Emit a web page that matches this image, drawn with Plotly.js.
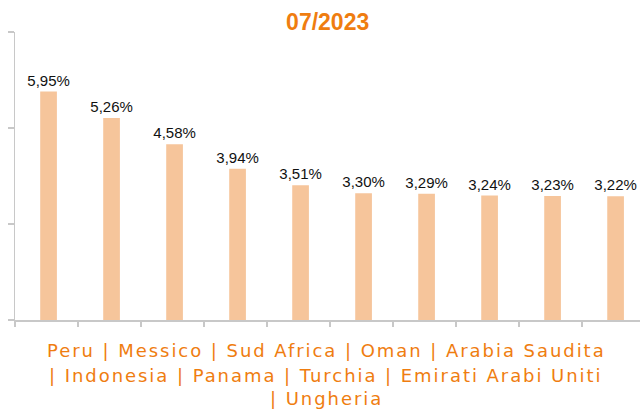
<!DOCTYPE html>
<html>
<head>
<meta charset="utf-8">
<script src="https://cdn.plot.ly/plotly-3.0.1.min.js"></script>
<style>html,body{margin:0;padding:0;background:#fff;}#chart{width:640px;height:409px;}
.annotation-text{letter-spacing:1.95px;}</style>
</head>
<body>
<div id="chart"></div>
<script>
const title = "07/2023";
const countries = ["Peru", "Messico", "Sud Africa", "Oman", "Arabia Saudita", "Indonesia", "Panama", "Turchia", "Emirati Arabi Uniti", "Ungheria"];
const values = [5.95, 5.26, 4.58, 3.94, 3.51, 3.30, 3.29, 3.24, 3.23, 3.22];
const lineBreaks = [5, 9]; // label lines start at these category indices

const orange = "#EF7D10";
const labels = values.map(v => v.toFixed(2).replace(".", ",") + "%");

const lines = [];
let start = 0;
[...lineBreaks, countries.length].forEach((end, i) => {
  const part = countries.slice(start, end).join(" | ");
  lines.push(i === 0 ? part : "| " + part);
  start = end;
});
const shifts = [-30, -55, -78];
const annotations = lines.map((t, i) => ({
  text: t, xref: "paper", yref: "paper", x: 0.498, y: 0,
  xanchor: "center", yanchor: "middle", yshift: shifts[i], showarrow: false,
  font: {family: "DejaVu Sans", size: 18, color: orange}
}));

const trace = {
  type: "bar", x: countries, y: values,
  width: 0.265, offset: -0.1,
  marker: {color: "#F6C59B"},
  text: labels, textposition: "outside", cliponaxis: false, constraintext: "none",
  textfont: {family: "Liberation Sans", size: 15, color: "#111"},
  hoverinfo: "none"
};

const layout = {
  width: 640, height: 409,
  margin: {l: 15, r: 0, t: 32, b: 89},
  paper_bgcolor: "#fff", plot_bgcolor: "#fff",
  title: {text: "<b>" + title + "</b>", x: 0.512, xanchor: "center", y: 0.967, yanchor: "top",
          font: {family: "Liberation Sans", size: 23, color: orange}},
  showlegend: false,
  xaxis: {type: "category", range: [-0.5, 9.42], showticklabels: false, ticks: "outside", tickson: "boundaries",
          ticklen: 5, tickcolor: "#c8c8c8", tickwidth: 1.5, showline: true, linecolor: "#c8c8c8", linewidth: 1.5,
          showgrid: false, zeroline: false, fixedrange: true},
  yaxis: {range: [0, 7.5], dtick: 2.5, showticklabels: false, ticks: "outside", ticklen: 6,
          tickcolor: "#c8c8c8", tickwidth: 1.5, showline: true, linecolor: "#c8c8c8", linewidth: 1.5,
          showgrid: false, zeroline: false, fixedrange: true},
  annotations: annotations
};

Plotly.newPlot("chart", [trace], layout, {displayModeBar: false, staticPlot: true});
</script>
</body>
</html>
